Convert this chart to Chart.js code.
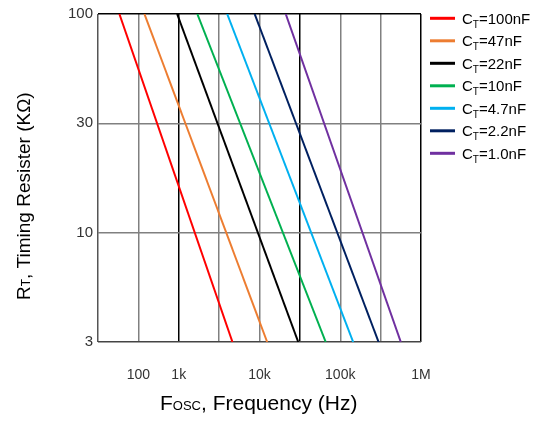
<!DOCTYPE html>
<html><head><meta charset="utf-8">
<script src="https://cdn.jsdelivr.net/npm/chart.js@4/dist/chart.umd.min.js"></script>
<style>html,body{margin:0;padding:0;background:#fff;}#wrap{position:relative;width:550px;height:421px;}</style>
</head><body><div id="wrap"><canvas id="c" width="550" height="421"></canvas></div>
<script>
// Timing capacitor values (legend) and colours
const seriesNames = ['100nF', '47nF', '22nF', '10nF', '4.7nF', '2.2nF', '1.0nF'];
const seriesColors = ['#FF0000', '#ED7D31', '#000000', '#00B050', '#00B0F0', '#002060', '#7030A0'];
// Position on the frequency axis (in grid divisions from the left edge)
// where each curve crosses R = 100 kΩ (top) and R = 3 kΩ (bottom)
const xAtR100 = [0.53, 1.15, 1.96, 2.46, 3.20, 3.88, 4.65];
const xAtR3 = [3.33, 4.19, 4.96, 5.64, 6.32, 6.95, 7.50];
// Tick labels, one per grid division
const xTickLabels = ['', '100', '1k', '', '10k', '', '100k', '', '1M'];
const yTickLabels = ['3', '10', '30', '100'];

const FONT = "'Liberation Sans', Arial, Helvetica, sans-serif";
const yTop = yTickLabels.indexOf('100');
const yBottom = yTickLabels.indexOf('3');

const datasets = seriesNames.map((n, i) => ({
  label: 'CT=' + n,
  data: [{x: xAtR100[i], y: yTop}, {x: xAtR3[i], y: yBottom}],
  borderColor: seriesColors[i],
  backgroundColor: seriesColors[i],
  borderWidth: 2,
  pointRadius: 0,
  showLine: true,
  fill: false,
  tension: 0
}));

function drawRuns(ctx, runs, x, y) {
  let cx = x;
  for (const [txt, size, dy] of runs) {
    ctx.font = size + 'px ' + FONT;
    ctx.fillText(txt, cx, y + dy);
    cx += ctx.measureText(txt).width;
  }
  return cx;
}

const textPlugin = {
  id: 'texts',
  afterDraw(chart) {
    const ctx = chart.ctx;
    ctx.save();
    ctx.fillStyle = '#000';
    ctx.textBaseline = 'alphabetic';
    ctx.textAlign = 'left';
    // X axis title
    drawRuns(ctx, [['F', 21, 0], ['OSC', 13, 0], [', Frequency (Hz)', 21, 0]], 160, 410);
    // Y axis title
    ctx.save();
    ctx.translate(30, 300);
    ctx.rotate(-Math.PI / 2);
    drawRuns(ctx, [['R', 19, 0], ['T', 12, 0], [', Timing Resister (K\u03A9)', 19, 0]], 0, 0);
    ctx.restore();
    // Legend
    seriesNames.forEach((n, i) => {
      const y = 18.3 + i * 22.5;
      ctx.strokeStyle = seriesColors[i];
      ctx.lineWidth = 3;
      ctx.beginPath();
      ctx.moveTo(430, y);
      ctx.lineTo(455, y);
      ctx.stroke();
      ctx.fillStyle = '#000';
      drawRuns(ctx, [['C', 15, 5.5], ['T', 10, 9.5], ['=' + n, 15, 5.5]], 462, y);
    });
    ctx.restore();
  }
};

new Chart(document.getElementById('c'), {
  type: 'scatter',
  data: { datasets },
  options: {
    responsive: false,
    animation: false,
    layout: { padding: { left: 0, top: 11, right: 129, bottom: 0 } },
    plugins: { legend: { display: false }, tooltip: { enabled: false } },
    scales: {
      x: {
        type: 'linear', min: 0, max: xTickLabels.length - 1,
        afterBuildTicks: s => { s.ticks = xTickLabels.map((_, i) => ({ value: i })); },
        afterFit: s => { s.height = 79; },
        ticks: {
          autoSkip: false, maxRotation: 0, padding: 25, color: '#333',
          font: { family: FONT, size: 14 },
          callback: v => xTickLabels[v]
        },
        grid: {
          drawTicks: false,
          color: c => { const v = c.tick.value; return (v === 2 || v === 5 || v === 8) ? '#000' : (v === 0 ? '#555' : '#808080'); },
          lineWidth: 1.5
        },
        border: { display: false }
      },
      y: {
        type: 'linear', min: 0, max: yTickLabels.length - 1,
        afterBuildTicks: s => { s.ticks = yTickLabels.map((_, i) => ({ value: i })); },
        afterFit: s => { s.width = 98; },
        ticks: {
          padding: 5, color: '#333',
          font: { family: FONT, size: 15 },
          callback: v => yTickLabels[v]
        },
        grid: {
          drawTicks: false,
          color: c => { const v = c.tick.value; return v === 3 ? '#000' : (v === 0 ? '#444' : '#808080'); },
          lineWidth: 1.5
        },
        border: { display: false }
      }
    }
  },
  plugins: [textPlugin]
});
</script>
</body></html>
